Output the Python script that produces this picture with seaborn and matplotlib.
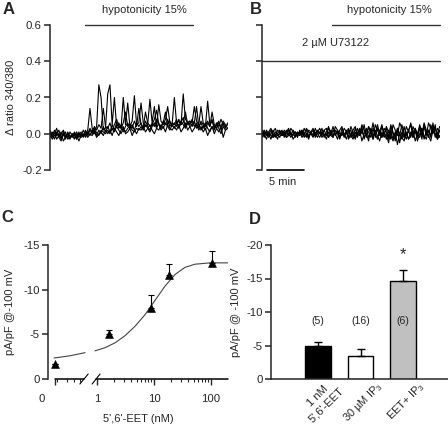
import matplotlib
matplotlib.use('Agg')
import matplotlib.pyplot as plt
import matplotlib.transforms as mtransforms
from matplotlib.ticker import NullFormatter
import numpy as np
import pandas as pd
import seaborn as sns

sns.set_style('ticks')
plt.rcParams['font.family'] = ['Liberation Sans', 'DejaVu Sans']
plt.rcParams['axes.unicode_minus'] = False
plt.rcParams['mathtext.default'] = 'regular'

# ---- A / B: single-cell ratio traces, hundredths of a ratio unit, one sample every 0.3 min
SAMPLE_MIN = 0.3
trace_a1 = [1, -2, 2, -1, 0, -3, 1, -2, 0, -1, -2, 1, -3, 0, -1, 2, -1,
            2, 14, 3, 1, 4, 27, 20, 2, 3,
            22, 27, 5, 20, 4, 6, 3, 20, 5, 17, 4, 7, 21, 5, 6,
            17, 6, 4, 5, 19, 6, 15, 4, 16, 7, 5, 8, 15, 6, 5,
            20, 6, 7, 5, 22, 8, 6, 7, 6, 15, 7,
            5, 15, 6, 4, 18, 5, 7, 3, 6, 4, 8, 5, 3, 6]
trace_a2 = [-1, 1, -3, 0, 2, -2, -1, 1, -3, -2, 0, -1, 1, -2, 0, -1, 1,
            0, 3, 1, 4, 2, 5, 3, 14, 4,
            3, 6, 2, 5, 8, 4, 3, 6, 12, 4, 5, 3, 7, 4, 14,
            5, 3, 12, 6, 4, 5, 8, 13, 5, 4, 6, 12, 5, 7, 4,
            6, 4, 8, 5, 6, 12, 5, 7, 4, 6, 15,
            4, 6, 3, 5, 7, 4, 12, 5, 3, 6, 4, 7, 5, 3]
trace_a3 = [-2, 0, 1, -3, -1, 1, -4, -2, -1, -3, 0, -2, -1, -4, -1, 0, -2,
            1, -1, 2, 0, 1, -1, 2, 1, 0,
            2, 0, 3, 1, 4, 2, 0, 3, 1, 3, 4, 2, 1, 3, 2,
            4, 2, 5, 3, 1, 4, 6, 3, 2, 5, 3, 6, 4, 2, 5,
            3, 6, 4, 7, 5, 3, 6, 4, 5, 7, 3,
            5, 2, 4, 6, 3, 1, 4, 2, 5, 3, 0, 4, 2, 3]
trace_a4 = [2, -1, 0, 3, -2, 0, 2, -1, -2, 1, -1, -3, 0, -1, 1, -2, 2,
            -1, 2, 0, 3, -1, 2, 0, 4, 1,
            4, 1, 5, 2, 6, 3, 5, 1, 4, 6, 3, 5, 2, 6, 4,
            6, 3, 7, 4, 2, 6, 4, 8, 5, 3, 7, 5, 8, 4, 6,
            5, 8, 3, 6, 9, 4, 7, 5, 8, 4, 6,
            3, 7, 5, 2, 6, 4, 8, 3, 5, 7, 2, 6, 4, 5]
trace_a5 = [0, -3, -1, 1, -2, -4, 0, -3, 1, -2, -1, 0, -3, 1, -2, -1, 0,
            -2, 0, -1, 1, -2, 0, 1, -1, 2,
            0, 2, -1, 3, 1, -1, 2, 4, 0, 1, 3, -1, 2, 0, 3,
            2, 4, 1, 3, 5, 2, 0, 3, 6, 2, 4, 1, 5, 3, 2,
            4, 2, 5, 1, 3, 6, 2, 4, 1, 3, 5,
            2, 4, 1, 3, -1, 2, 4, 0, 3, 1, 4, -2, 2, 3]

trace_b1 = [1, -2, 2, 0, -3, 1, 3, -1, 0, 2, -2, 1, 3, -1, 2, 0, -2,
            2, -1, 3, 0, -2, 1, 3, -1, 2,
            0, 3, -2, 1, 4, -1, 2, 0, -3, 2, 4, -1, 1, 3, -2,
            2, 4, -1, 3, 0, 5, -2, 4, 1, -3, 5, 2, -1, 4, 0,
            3, -2, 5, 1, -4, 3, 0, -3, 4, -1, 2,
            5, -2, 3, 0, 4, -1, 6, 2, -2, 5, 1, 3, -1, 4]
trace_b2 = [-2, 0, -3, 1, -1, -2, 0, -3, 1, -1, 0, -2, -1, 1, -3, -1, 0,
            -1, 1, -2, 0, -3, 1, -1, 0, -2,
            1, -2, 0, -3, 1, -1, -2, 2, 0, -3, 1, -2, 0, 2, -1,
            -3, 1, -2, 2, -4, 0, 3, -2, 1, -3, 2, -1, -4, 1, -2,
            0, -5, 2, -3, 1, -6, 0, -2, -4, 1, -3,
            -1, 2, -4, 0, -2, 3, -3, 1, -1, -4, 2, 0, -3, -1]
trace_b3 = [0, 2, -1, 1, 3, 0, -2, 2, 1, -1, 2, 0, -1, 3, 1, -2, 1,
            0, 2, -1, 3, 1, 0, 2, -2, 1,
            3, 0, 2, -1, 3, 1, -2, 4, 2, 0, -1, 3, 1, -2, 4,
            1, -2, 3, 0, 5, 2, -1, 4, 0, 6, -2, 3, 1, 5, -1,
            4, 1, -3, 5, 2, -1, 6, 3, -2, 4, 1,
            6, 0, 3, -2, 5, 1, 4, -1, 6, 3, 0, 5, -3, 2]
trace_b4 = [-1, 1, 0, -2, 0, 2, -1, 0, -2, 1, -1, 2, 0, -2, 0, 1, -1,
            1, -2, 0, 2, -1, 0, -2, 1, 0,
            -2, 1, -1, 0, -2, 2, -1, 0, 2, -2, 0, -1, 2, -3, 0,
            0, -3, 1, -1, 2, -2, 0, -4, 3, -1, 0, -3, 2, -2, 1,
            -3, 2, -1, -4, 0, 2, -5, 1, -2, 0, -3,
            1, -2, 2, -4, 0, 3, -1, -3, 2, -2, 4, -1, 1, -2]
trace_b5 = [2, 0, 1, -1, 2, -2, 1, 0, 2, -1, 1, -2, 2, 0, -1, 1, 0,
            -1, 2, 0, -2, 2, 1, -1, 3, 0,
            1, -1, 2, 3, -2, 0, 4, -1, 1, -2, 3, 0, -3, 1, 2,
            -2, 3, 0, -1, 4, -3, 2, 1, -2, 3, -1, 5, 0, -2, 3,
            1, -3, 4, 0, -2, 3, -1, 5, 0, -3, 2,
            -2, 4, 1, -1, 3, -3, 5, 0, 2, -1, 6, -2, 3, 1]

hypo_a = (4.7, 19.3)      # min
hypo_b = (9.5, 24.0)
u73122 = (0.0, 24.0)

# ---- C: dose response
conc_labels = ['0', '1', '10', '100']
dose_nm = [0.18, 1.6, 8.9, 18.3, 104]
dose_resp = [-1.7, -5.0, -7.9, -11.6, -12.95]
dose_sem = [0.0, 0.45, 1.55, 1.25, 1.35]
fit_left_x = [0.176, 0.336, 0.616]
fit_left_y = [-2.35, -2.6, -2.95]
fit_right_x = [0.92, 1.38, 2.07, 3.1, 4.64, 6.95, 10.4, 15.6, 23.4, 35.0, 52.4, 95.9, 198.0]
fit_right_y = [-3.15, -3.5, -4.05, -4.85, -5.9, -7.2, -8.8, -10.4, -11.7, -12.5, -12.85, -13.0, -13.0]

# ---- D: bars
groups = ["1 nM\n5',6'-EET", '30 µM IP$_3$', 'EET+ IP$_3$']
bar_vals = [-4.9, -3.5, -14.7]
bar_sem = [0.55, 1.0, 1.5]
n_cells = ['(5)', '(16)', '(6)']
bar_colors = ['black', 'white', '#c0c0c0']

FS = 8.2      # tick labels
TS = 8.0      # other text
fig = plt.figure(figsize=(4.48, 4.28), dpi=100)
W, H = 448, 428


def px_axes(l, r, top, bot):
    return fig.add_axes([l / W, 1 - bot / H, (r - l) / W, (bot - top) / H])


def trace_df(traces):
    rows = []
    for k, tr in enumerate(traces):
        t = np.arange(len(tr)) * SAMPLE_MIN
        rows.append(pd.DataFrame({'time': t, 'ratio': np.array(tr) / 100.0, 'cell': k}))
    return pd.concat(rows)


def style_trace_axes(ax, labels=True):
    ax.set_xlim(0, 24.05)
    ax.set_ylim(-0.2, 0.6)
    sns.despine(ax=ax, bottom=True)
    ax.spines['left'].set_linewidth(1.1)
    ax.set_xticks([])
    ax.set_yticks([-0.2, 0.0, 0.2, 0.4, 0.6])
    ax.tick_params(axis='y', length=4, width=1.1, labelsize=FS, pad=2)
    if labels:
        ax.set_yticklabels(['-0.2', '0.0', '0.2', '0.4', '0.6'])
    else:
        ax.set_yticklabels([])
    ax.set_xlabel('')
    ax.set_ylabel('')


# A
axA = px_axes(50, 228, 25, 170)
sns.lineplot(data=trace_df([trace_a1, trace_a2, trace_a3, trace_a4, trace_a5]),
             x='time', y='ratio', units='cell', estimator=None, color='black',
             lw=0.8, ax=axA, legend=False)
style_trace_axes(axA)
axA.set_ylabel('Δ ratio 340/380', fontsize=TS, labelpad=4)
axA.plot(hypo_a, [0.6, 0.6], color='#333333', lw=1, clip_on=False)
axA.text(12.8, 0.683, 'hypotonicity 15%', fontsize=TS, ha='center', va='center')

# B
axB = px_axes(262, 440, 25, 170)
sns.lineplot(data=trace_df([trace_b1, trace_b2, trace_b3, trace_b4, trace_b5]),
             x='time', y='ratio', units='cell', estimator=None, color='black',
             lw=0.8, ax=axB, legend=False)
style_trace_axes(axB, labels=False)
axB.plot(hypo_b, [0.6, 0.6], color='#333333', lw=1, clip_on=False)
axB.plot(u73122, [0.4, 0.4], color='#333333', lw=1, clip_on=False)
axB.text(17.2, 0.683, 'hypotonicity 15%', fontsize=TS, ha='center', va='center')
axB.text(10.0, 0.5, '2 µM U73122', fontsize=TS, ha='center', va='center')
axB.plot([0.68, 5.68], [-0.2, -0.2], color='black', lw=1.2, clip_on=False)
axB.text(2.8, -0.265, '5 min', fontsize=TS, ha='center', va='center')

# C
axC = px_axes(48, 228, 245, 379)
axC.set_xscale('log')
sns.lineplot(x=fit_left_x, y=fit_left_y, color='#444444', lw=0.8, ax=axC, sort=False)
sns.lineplot(x=fit_right_x, y=fit_right_y, color='#444444', lw=0.8, ax=axC, sort=False)
axC.errorbar(dose_nm, dose_resp, yerr=[dose_sem, [0] * len(dose_sem)], fmt='none',
             ecolor='black', elinewidth=0.8, capsize=2.5, capthick=0.8)
sns.scatterplot(x=dose_nm, y=dose_resp, marker='^', color='black', s=32,
                edgecolor='black', ax=axC, zorder=3)
axC.set_xlim(0.138, 198.6)
axC.set_ylim(0, -15)
sns.despine(ax=axC)
axC.spines['bottom'].set_visible(False)
axC.spines['left'].set_linewidth(1.1)
axC.set_yticks([-15, -10, -5, 0])
axC.set_xticks([0.18, 1, 10, 100])
axC.set_xticklabels([''] + conc_labels[1:])
axC.set_xticks([0.2, 0.3, 0.4, 0.5] + list(range(2, 10)) + list(range(20, 100, 10)), minor=True)
axC.xaxis.set_minor_formatter(NullFormatter())
axC.tick_params(axis='y', length=4, width=1.1, labelsize=FS, pad=2)
axC.tick_params(axis='x', which='major', length=4, width=1, labelsize=FS, pad=7)
axC.tick_params(axis='x', which='minor', length=2.5, width=0.8)
axC.text(0.108, 0, conc_labels[0], fontsize=FS, ha='center', va='top',
         transform=axC.transData + mtransforms.ScaledTranslation(0, -0.15, fig.dpi_scale_trans))
# broken x axis
axC.plot([0.18, 0.59], [0, 0], color='black', lw=1.1, clip_on=False)
axC.plot([0.96, 198.6], [0, 0], color='black', lw=1.1, clip_on=False)
for x0, x1 in [(0.50, 0.70), (0.82, 1.13)]:
    axC.plot([x0, x1], [0.56, -0.56], color='black', lw=0.8, clip_on=False)
axC.set_xlabel("5',6'-EET (nM)", fontsize=TS, labelpad=7)
axC.set_ylabel('pA/pF @-100 mV', fontsize=TS, labelpad=6)

# D
axD = px_axes(271, 448, 245, 379)
bar_df = pd.DataFrame({'group': groups, 'val': bar_vals})
sns.barplot(data=bar_df, x='group', y='val', hue='group', palette=bar_colors,
            edgecolor='black', linewidth=1, width=0.6, errorbar=None, legend=False, ax=axD)
axD.errorbar(range(3), bar_vals, yerr=[bar_sem, [0] * 3], fmt='none', ecolor='black',
             elinewidth=1, capsize=3, capthick=1)
for i, n in enumerate(n_cells):
    axD.text(i, -8.7, n, fontsize=7.6, ha='center', va='center')
axD.text(2, -18.6, '*', fontsize=12, ha='center', va='center')
axD.set_xlim(-1.1, 3.05)
axD.set_ylim(0, -20)
sns.despine(ax=axD)
axD.spines['left'].set_linewidth(1.1)
axD.spines['bottom'].set_linewidth(1.1)
axD.set_yticks([-20, -15, -10, -5, 0])
axD.tick_params(axis='y', length=4, width=1.1, labelsize=FS, pad=2)
axD.tick_params(axis='x', length=0, labelsize=8.0, pad=4)
axD.set_xlabel('')
axD.set_ylabel('pA/pF @ -100 mV', fontsize=TS, labelpad=4)
shift = mtransforms.ScaledTranslation(0.2, 0, fig.dpi_scale_trans)
for lab in axD.get_xticklabels():
    lab.set_rotation(45)
    lab.set_ha('right')
    lab.set_va('center')
    lab.set_rotation_mode('anchor')
    lab.set_multialignment('center')
    lab.set_transform(lab.get_transform() + shift)

for letter, x, y in [('A', 9, 10), ('B', 256, 10), ('C', 7, 218), ('D', 255, 219)]:
    fig.text(x / W, 1 - y / H, letter, fontsize=12, fontweight='bold', ha='center', va='center')

fig.savefig('out.png', dpi=100)
